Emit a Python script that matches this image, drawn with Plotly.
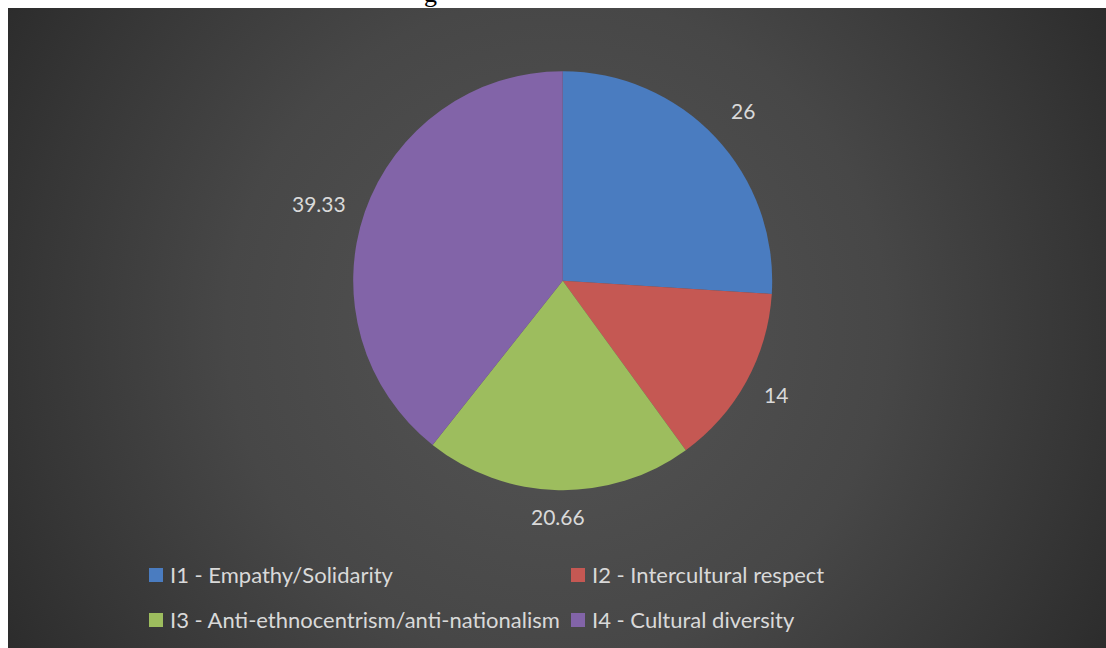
import math
import plotly.graph_objects as go

# Indicator scores
labels = [
    "I1 - Empathy/Solidarity",
    "I2 - Intercultural respect",
    "I3 - Anti-ethnocentrism/anti-nationalism",
    "I4 - Cultural diversity",
]
values = [26, 14, 20.66, 39.33]
value_text = ["26", "14", "20.66", "39.33"]
colors = ["#4a7cc0", "#c55853", "#9dbd5e", "#8264a8"]

W, H = 1106, 648

# Pie geometry in pixels
CX, CY, R = 562.7, 280.7, 209.5

# Chart area (dark panel) in pixels
PX0, PY0, PX1, PY1 = 8, 8, W, H
GCX, GCY, GR = 557, 328, 660

FONT = "Lato"
TEXT_COLOR = "#d9d9d9"

fig = go.Figure()

# Dark panel with radial gradient; square path so the gradient is circular
fig.add_trace(go.Scatter(
    x=[GCX - GR, GCX + GR, GCX + GR, GCX - GR, GCX - GR],
    y=[GCY - GR, GCY - GR, GCY + GR, GCY + GR, GCY - GR],
    mode="lines",
    line=dict(width=0),
    fill="toself",
    fillgradient=dict(
        type="radial",
        colorscale=[[0, "#555555"], [0.5, "#474747"], [0.8, "#363636"], [1, "#2a2a2a"]],
    ),
    hoverinfo="skip",
    showlegend=False,
))

fig.add_trace(go.Pie(
    labels=labels,
    values=values,
    sort=False,
    direction="clockwise",
    rotation=0,
    marker=dict(colors=colors, line=dict(width=0)),
    textinfo="none",
    hoverinfo="label+value",
    showlegend=False,
    domain=dict(
        x=[(CX - R) / W, (CX + R) / W],
        y=[1 - (CY + R) / H, 1 - (CY - R) / H],
    ),
))

annotations = []

# Data labels just outside each slice
total = sum(values)
cum = 0.0
for v, t in zip(values, value_text):
    mid = (cum + v / 2) / total * 2 * math.pi
    cum += v
    s, c = math.sin(mid), math.cos(mid)
    xa = "left" if s > 0.3 else ("right" if s < -0.3 else "center")
    ya = "bottom" if c > 0.5 else ("top" if c < -0.5 else "middle")
    d = R + (12 if ya == "top" else 18)
    px, py = CX + d * s, CY - d * c
    if ya == "middle":
        py += 2 * c * -1 + (3 if c < 0 else -2)
    annotations.append(dict(
        x=px / W, y=1 - py / H, xref="paper", yref="paper",
        text=t, showarrow=False, xanchor=xa, yanchor=ya,
        font=dict(family=FONT, size=21, color=TEXT_COLOR),
    ))

# Legend: two columns, two rows
leg_cols = [149, 571]
leg_rows = [575, 620]
sw = 14
shapes = []
for i, (lab, col) in enumerate(zip(labels, colors)):
    lx = leg_cols[i % 2]
    ly = leg_rows[i // 2]
    shapes.append(dict(
        type="rect", xref="paper", yref="paper",
        x0=lx / W, x1=(lx + sw) / W,
        y0=1 - (ly + sw / 2) / H, y1=1 - (ly - sw / 2) / H,
        fillcolor=col, line=dict(width=0), layer="above",
    ))
    annotations.append(dict(
        x=(lx + sw + 5) / W, y=1 - (ly - 1) / H, xref="paper", yref="paper",
        text=lab, showarrow=False, xanchor="left", yanchor="middle",
        font=dict(family=FONT, size=22, color=TEXT_COLOR),
    ))

# Title line above the panel (mostly outside the page)
annotations.append(dict(
    x=430 / W, y=1, xref="paper", yref="paper",
    text="g", showarrow=False, xanchor="center", yanchor="bottom", yshift=-10,
    font=dict(family="Liberation Serif", size=26, color="#000000"),
))

fig.update_layout(
    width=W, height=H,
    margin=dict(l=0, r=0, t=0, b=0),
    paper_bgcolor="#ffffff",
    plot_bgcolor="rgba(0,0,0,0)",
    xaxis=dict(domain=[PX0 / W, 1], range=[PX0, PX1], visible=False, fixedrange=True),
    yaxis=dict(domain=[0, 1 - PY0 / H], range=[PY1, PY0], visible=False, fixedrange=True),
    annotations=annotations,
    shapes=shapes,
    showlegend=False,
)

fig.write_html("out.html")
